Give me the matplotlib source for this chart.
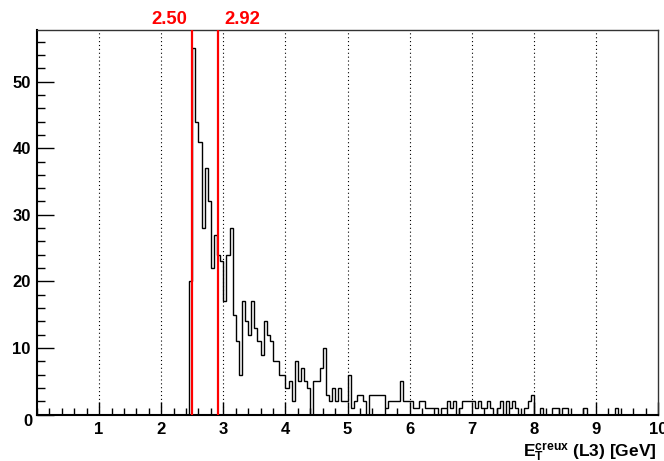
import numpy as np
import matplotlib
matplotlib.use('Agg')
import matplotlib.pyplot as plt
from matplotlib.ticker import MultipleLocator, FixedLocator
import matplotlib.transforms as mtransforms

plt.rcParams['font.family'] = ['Liberation Sans', 'DejaVu Sans']
plt.rcParams['font.weight'] = 'bold'
plt.rcParams['mathtext.fontset'] = 'custom'
plt.rcParams['mathtext.rm'] = 'Liberation Sans:bold'
plt.rcParams['mathtext.bf'] = 'Liberation Sans:bold'
plt.rcParams['mathtext.it'] = 'Liberation Sans:bold'

# ---------------- data ----------------
bin_width = 0.05
x_min, x_max = 0.0, 10.0
first_filled_bin = 2.45          # lower edge of first listed bin
counts = [
    20, 55, 44, 41, 28, 37, 32, 22, 27, 24,   # 2.45 - 2.90
    23, 17, 24, 28, 15, 11, 6, 17, 14, 12,    # 2.95 - 3.40
    17, 13, 11, 9, 14, 12, 11, 8, 8, 6,       # 3.45 - 3.90
    6, 4, 5, 2, 8, 5, 7, 5, 4, 0,             # 3.95 - 4.40
    5, 5, 7, 10, 3, 2, 4, 2, 4, 2,            # 4.45 - 4.90
    2, 6, 1, 2, 3, 3, 2, 0, 3, 3,             # 4.95 - 5.40
    3, 3, 3, 1, 2, 2, 2, 2, 5, 2,             # 5.45 - 5.90
    2, 2, 1, 1, 2, 2, 1, 1, 1, 1,             # 5.95 - 6.40
    0, 1, 1, 2, 1, 2, 0, 1, 2, 2,             # 6.45 - 6.90
    2, 2, 1, 2, 1, 1, 2, 1, 0, 1,             # 6.95 - 7.40
    2, 0, 2, 1, 2, 1, 0, 0, 1, 2,             # 7.45 - 7.90
    3, 0, 0, 1, 0, 0, 0, 1, 1, 0,             # 7.95 - 8.40
    1, 1, 0, 0, 0, 0, 0, 1, 0, 0,             # 8.45 - 8.90
    0, 0, 0, 0, 0, 0, 0, 1,                   # 8.95 - 9.30
]
cut_values = [2.50, 2.92]
cut_labels = ['2.50', '2.92']
x_ticks = [1, 2, 3, 4, 5, 6, 7, 8, 9, 10]
x_tick_labels = ['1', '2', '3', '4', '5', '6', '7', '8', '9', '10']
y_ticks = [10, 20, 30, 40, 50]
y_tick_labels = ['10', '20', '30', '40', '50']
x_title = r'$\mathrm{E}_{\mathrm{T}}^{\mathrm{creux}}$ (L3) [GeV]'

# ---------------- histogram ----------------
n_bins = int(round((x_max - x_min) / bin_width))
edges = np.linspace(x_min, x_max, n_bins + 1)
values = np.zeros(n_bins)
start = int(round((first_filled_bin - x_min) / bin_width))
values[start:start + len(counts)] = counts
y_max = 1.05 * values.max()

W, H = 664, 461
fig = plt.figure(figsize=(W / 100, H / 100), dpi=100)
fig.patch.set_facecolor('white')
ax = fig.add_axes([37 / W, 46.4 / H, 621 / W, 384.6 / H])
ax.set_xlim(x_min, x_max)
ax.set_ylim(0, y_max)

# grid (vertical dotted lines at major x ticks)
for xt in x_ticks[:-1]:
    ax.axvline(xt, color='black', lw=0.8, linestyle=(0, (1, 2.5)), zorder=1)

ax.stairs(values, edges, color='black', lw=1.0, zorder=3)

for cv in cut_values:
    ax.axvline(cv, color='#ff0000', lw=1.6, zorder=4)

offs = [(-4.5, 'right'), (6.5, 'left')]
for cv, lab, (dx, ha) in zip(cut_values, cut_labels, offs):
    tr = mtransforms.blended_transform_factory(ax.transData, fig.transFigure) + \
        mtransforms.ScaledTranslation(dx / 100, 0, fig.dpi_scale_trans)
    ax.text(cv, (H - 23.5) / H, lab, transform=tr, color='#ff0000',
            fontsize=13.3, fontweight='bold', ha=ha, va='baseline', clip_on=False)

# ticks
ax.xaxis.set_major_locator(FixedLocator(x_ticks))
ax.set_xticklabels(x_tick_labels)
ax.xaxis.set_minor_locator(MultipleLocator(0.2))
ax.yaxis.set_major_locator(FixedLocator([0] + y_ticks))
ax.set_yticklabels([''] + y_tick_labels)
ax.yaxis.set_minor_locator(MultipleLocator(2))
ax.tick_params(axis='x', which='major', direction='in', length=9.5, width=1.0,
               labelsize=12, pad=5.5, top=False)
ax.tick_params(axis='x', which='minor', direction='in', length=4.7, width=1.0, top=False)
ax.tick_params(axis='y', which='major', direction='in', length=12, width=1.0,
               labelsize=12, pad=4.5, right=False)
ax.tick_params(axis='y', which='minor', direction='in', length=6, width=1.0, right=False)
for lab in ax.get_xticklabels() + ax.get_yticklabels():
    lab.set_fontweight('bold')

# zero label on y axis, shifted slightly down as in the reference
tr0 = ax.transAxes + mtransforms.ScaledTranslation(-4.5 / 100, -7 / 100, fig.dpi_scale_trans)
ax.text(0, 0, '0', transform=tr0, ha='right', va='center', fontsize=12,
        fontweight='bold', clip_on=False)

for side in ['left', 'bottom']:
    ax.spines[side].set_linewidth(1.5)
for side in ['top', 'right']:
    ax.spines[side].set_linewidth(1.0)
    ax.spines[side].set_color('#333333')

fig.text(657 / W, 5 / H, x_title, ha='right', va='baseline', fontsize=12.5,
         fontweight='bold')

fig.savefig('out.png', dpi=100, facecolor='white')
